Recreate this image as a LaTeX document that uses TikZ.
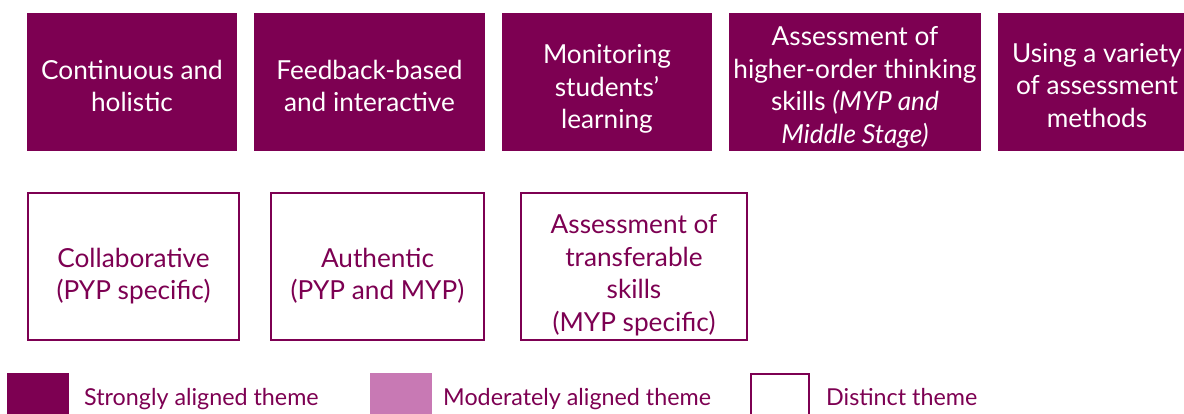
\documentclass[tikz,border=0pt]{standalone}
\usepackage{fontspec}
\setmainfont{Lato}
\definecolor{strongc}{HTML}{7D0052}
\definecolor{modc}{HTML}{C879B4}
\tikzset{
  strongbox/.style={fill=strongc, draw=none, inner sep=0pt, outer sep=0pt, anchor=north west},
  distinctbox/.style={fill=white, draw=strongc, line width=2pt, inner sep=0pt, outer sep=0pt, anchor=north west},
  whitetext/.style={text=white, align=center, font=\fontsize{26.2}{32.5}\selectfont, inner sep=0pt},
  purpletext/.style={text=strongc, align=center, font=\fontsize{26.2}{32.5}\selectfont, inner sep=0pt},
  legendtext/.style={text=strongc, anchor=base west, font=\fontsize{23.3}{26}\selectfont, inner sep=0pt},
}
\begin{document}
\begin{tikzpicture}[x=1pt,y=-1pt]
\useasboundingbox (0,0) rectangle (1184,414);
% top row
\node[strongbox, minimum width=210pt, minimum height=138pt] (b1) at (27,13) {};
\node[strongbox, minimum width=231pt, minimum height=138pt] (b2) at (254,13) {};
\node[strongbox, minimum width=210pt, minimum height=138pt] (b3) at (502,13) {};
\node[strongbox, minimum width=252pt, minimum height=138pt] (b4) at (729,13) {};
\node[strongbox, minimum width=198pt, minimum height=138pt] (b5) at (998,13) {};
\node[whitetext] (t1) at ([yshift=-4pt]b1.center) {Continuous and\\holistic};
\node[whitetext] (t2) at ([yshift=-4pt]b2.center) {Feedback-based\\and interactive};
\node[whitetext] (t3) at ([yshift=-6.9pt]b3.center) {Monitoring\\students’\\learning};
\node[whitetext] (t4) at ([yshift=-5.5pt]b4.center) {Assessment of\\higher-order thinking\\skills \textit{(MYP and}\\\textit{Middle Stage)}};
\node[whitetext] (t5) at ([yshift=-3.5pt]b5.center) {Using a variety\\of assessment\\methods};
% bottom row
\node[distinctbox, minimum width=211pt, minimum height=147pt] (c1) at (28,193) {};
\node[distinctbox, minimum width=213pt, minimum height=147pt] (c2) at (271,193) {};
\node[distinctbox, minimum width=226pt, minimum height=147pt] (c3) at (521,193) {};
\node[purpletext] (u1) at ([yshift=-9.5pt]c1.center) {Collaborative\\(PYP specific)};
\node[purpletext] (u2) at ([yshift=-9.5pt]c2.center) {Authentic\\(PYP and MYP)};
\node[purpletext] (u3) at ([yshift=-8.5pt]c3.center) {Assessment of\\transferable\\skills\\(MYP specific)};
% legend
\node[strongbox, minimum width=62pt, minimum height=62pt] (l1) at (7,373) {};
\node[strongbox, fill=modc, minimum width=62pt, minimum height=62pt] (l2) at (370,373) {};
\node[distinctbox, minimum width=58pt, minimum height=62pt] (l3) at (751,374) {};
\node[legendtext] (lt1) at (84,405) {Strongly aligned theme};
\node[legendtext] (lt2) at (443,405) {Moderately aligned theme};
\node[legendtext] (lt3) at (826,405) {Distinct theme};
\end{tikzpicture}
\end{document}
